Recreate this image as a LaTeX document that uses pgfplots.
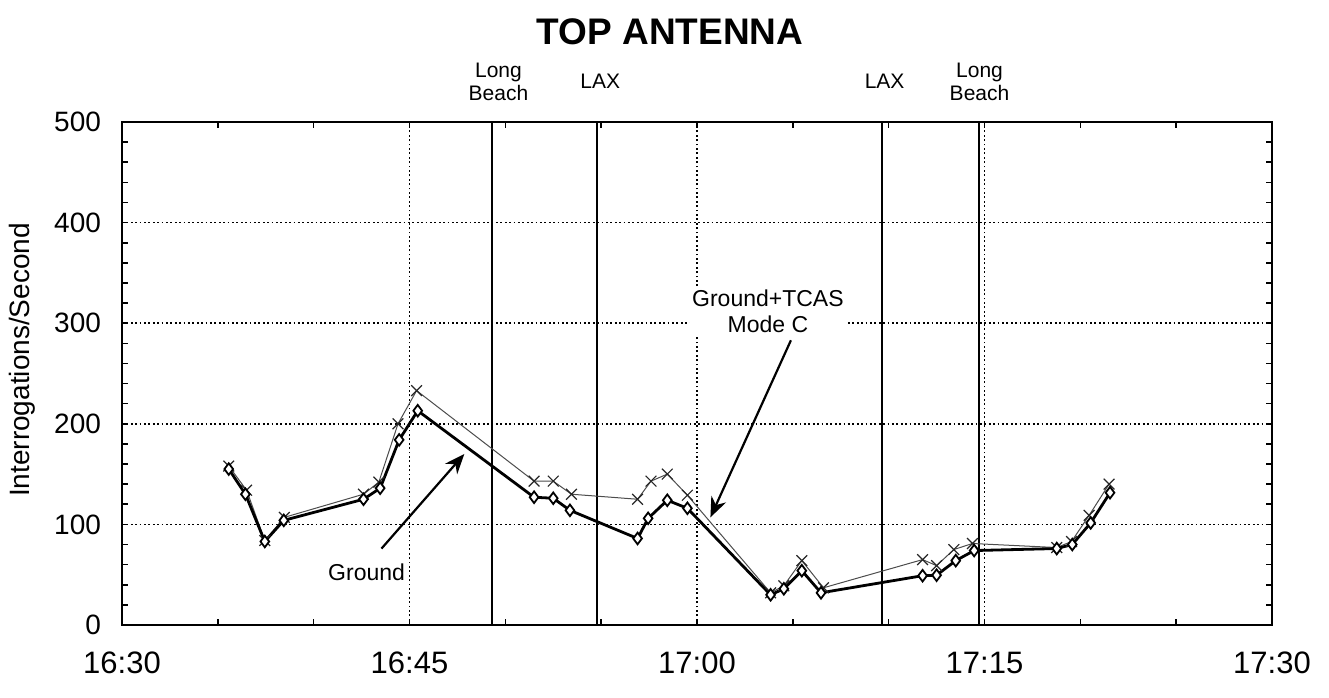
\documentclass[border=0pt]{standalone}
\usepackage{pgfplots}
\pgfplotsset{compat=1.18}
\usetikzlibrary{arrows.meta}
\usepackage{fontspec}
\setmainfont{Liberation Sans}
\begin{document}
\begin{tikzpicture}
\path[use as bounding box] (-61bp,-36.5bp) rectangle (603.5bp,312.5bp);
\begin{axis}[
  at={(0,0)}, anchor=south west,
  scale only axis, width=575bp, height=251.5bp,
  xmin=0, xmax=60, ymin=0, ymax=500,
  xtick={0,15,30,45,60},
  xticklabels={16:30,16:45,17:00,17:15,17:30},
  ytick={0,100,200,300,400,500},
  yticklabels={0,100,200,300,400,500},
  minor x tick num=2,
  minor y tick num=4,
  tick align=inside, tick pos=both,
  major tick length=3bp, minor tick length=3bp,
  tick style={black, line width=0.8bp},
  axis line style={black, line width=1.3bp},
  grid=major,
  major grid style={black, line width=0.9bp, dash pattern=on 0.9bp off 1.3bp},
  xticklabel style={font=\fontsize{15.5bp}{18bp}\selectfont, yshift=-10bp},
  yticklabel style={font=\fontsize{14bp}{16bp}\selectfont, xshift=-7bp},
  clip=false,
]
% airport marker lines
\addplot[black, line width=1.2bp] coordinates {(19.32,0) (19.32,500)};
\addplot[black, line width=1.2bp] coordinates {(24.79,0) (24.79,500)};
\addplot[black, line width=1.2bp] coordinates {(39.65,0) (39.65,500)};
\addplot[black, line width=1.2bp] coordinates {(44.72,0) (44.72,500)};
% Ground + TCAS Mode C
\addplot[black!70, line width=0.5bp, mark=x, mark size=3.8bp, mark options={line width=0.6bp, black!85}] coordinates {
(5.57,158) (6.5,134) (7.45,84) (8.47,107) (12.6,130) (13.4,142) (14.4,200) (15.37,233)
(21.5,143) (22.5,143) (23.45,130) (26.9,125) (27.6,143) (28.45,150) (29.5,129)
(33.84,32) (34.53,39) (35.47,64) (36.6,37) (41.77,65) (42.5,59) (43.4,75) (44.37,81)
(48.77,77) (49.54,83) (50.46,109) (51.5,140)
};
% Ground
\addplot[black, line width=1.4bp, mark=diamond*, mark size=2.9bp, mark options={fill=white, line width=0.9bp}] coordinates {
(5.57,155) (6.44,130) (7.45,83) (8.44,104) (12.6,125) (13.47,136) (14.46,184) (15.43,213)
(21.5,127) (22.5,126) (23.37,114) (26.9,86) (27.45,106) (28.45,124) (29.5,116)
(33.84,30) (34.53,36) (35.47,54) (36.47,32) (41.77,49) (42.5,49.5) (43.5,64) (44.46,74)
(48.77,76) (49.58,80) (50.54,101.5) (51.55,131.5)
};
% annotations
\node[font=\fontsize{11.5bp}{13bp}\selectfont] at (axis cs:12.76,52) {Ground};
\draw[black, line width=1.1bp, -{Stealth[length=10bp, width=8bp]}] (axis cs:13.54,76) -- (axis cs:17.86,170);
\node[font=\fontsize{11.5bp}{13bp}\selectfont, align=center, fill=white, inner sep=1bp] at (axis cs:33.7,312) {Ground+TCAS\\Mode C};
\draw[black, line width=1.1bp, -{Stealth[length=10bp, width=8bp]}] (axis cs:34.9,283) -- (axis cs:30.7,107);
% airport labels
\node[font=\fontsize{10.5bp}{11.5bp}\selectfont, align=center] at (axis cs:19.64,540) {Long\\Beach};
\node[font=\fontsize{10.5bp}{11.5bp}\selectfont] at (axis cs:24.95,540) {LAX};
\node[font=\fontsize{10.5bp}{11.5bp}\selectfont] at (axis cs:39.79,540) {LAX};
\node[font=\fontsize{10.5bp}{11.5bp}\selectfont, align=center] at (axis cs:44.74,540) {Long\\Beach};
% title
\node[font=\fontsize{18.5bp}{22bp}\selectfont\bfseries] at (axis cs:28.6,590) {TOP ANTENNA};
\end{axis}
\node[rotate=90, font=\fontsize{14bp}{16bp}\selectfont] at (-50bp,132.5bp) {Interrogations/Second};
\end{tikzpicture}
\end{document}
